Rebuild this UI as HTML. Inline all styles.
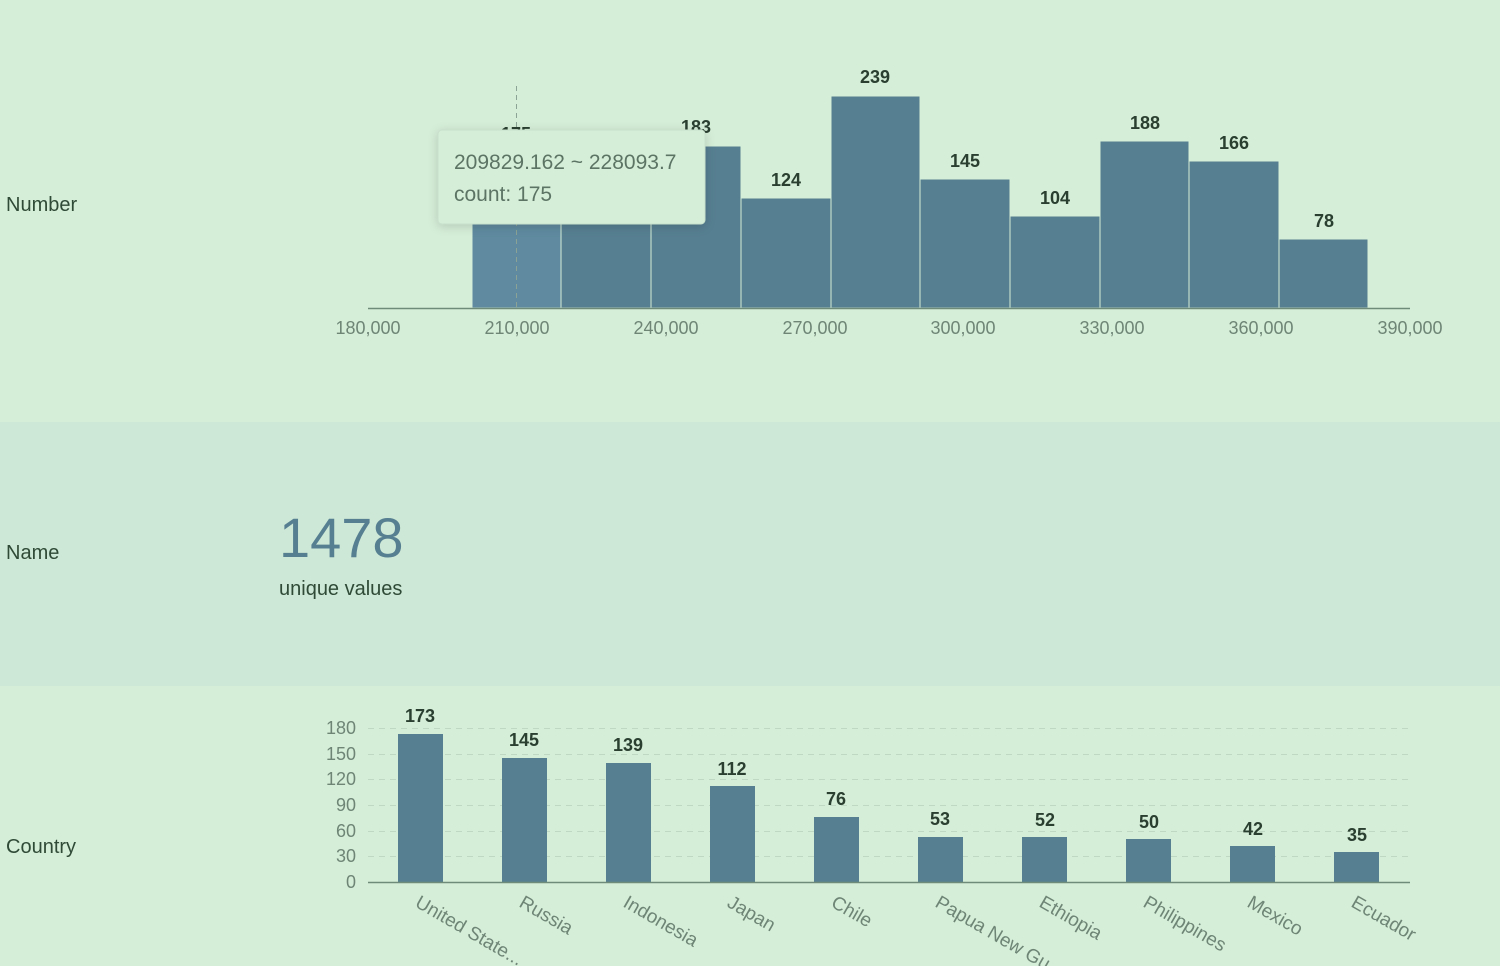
<!DOCTYPE html><html><head><meta charset="utf-8"><style>
body{margin:0;width:1500px;height:966px;background:#d5eed8;font-family:"Liberation Sans","DejaVu Sans",sans-serif;overflow:hidden;position:relative}
.lab{position:absolute;left:6px;font-size:20px;color:#2f4a36}
</style></head><body>
<div style="position:absolute;left:0;top:422px;width:1500px;height:264px;background:#cde8d6"></div>
<div class="lab" style="top:194px">Number</div>
<div class="lab" style="top:542px">Name</div>
<div class="lab" style="top:836px">Country</div>
<div style="position:absolute;left:279px;top:505px;font-size:56px;color:#567f91">1478</div>
<div style="position:absolute;left:279px;top:578px;font-size:20px;color:#2f4a36">unique values</div>
<svg width="1500" height="966" style="position:absolute;left:0;top:0" font-family="Liberation Sans, DejaVu Sans, sans-serif">
<g fill="#567f91" stroke="#d5eed8" stroke-width="1">
<rect x="472" y="153" width="89" height="155" fill="#5f8a9f"/>
<rect x="561" y="160" width="90" height="148"/>
<rect x="651" y="146" width="90" height="162"/>
<rect x="741" y="198" width="90" height="110"/>
<rect x="831" y="96" width="89" height="212"/>
<rect x="920" y="179" width="90" height="129"/>
<rect x="1010" y="216" width="90" height="92"/>
<rect x="1100" y="141" width="89" height="167"/>
<rect x="1189" y="161" width="90" height="147"/>
<rect x="1279" y="239" width="89" height="69"/>
</g>
<line x1="368" y1="308.5" x2="1410" y2="308.5" stroke="#6e8a78" stroke-width="1.5"/>
<g font-size="18" font-weight="bold" fill="#2a3f30" text-anchor="middle">
<text x="516" y="140">175</text><text x="696" y="133">183</text><text x="786" y="186">124</text><text x="875" y="83">239</text><text x="965" y="167">145</text><text x="1055" y="204">104</text><text x="1145" y="129">188</text><text x="1234" y="149">166</text><text x="1324" y="227">78</text>
</g>
<g font-size="18" fill="#6e8576" text-anchor="middle">
<text x="368" y="334">180,000</text><text x="517" y="334">210,000</text><text x="666" y="334">240,000</text><text x="815" y="334">270,000</text><text x="963" y="334">300,000</text><text x="1112" y="334">330,000</text><text x="1261" y="334">360,000</text><text x="1410" y="334">390,000</text>
</g>
<line x1="516.5" y1="86" x2="516.5" y2="308" stroke="#8aa394" stroke-dasharray="5,4"/>
<rect x="438" y="130" width="267" height="94" rx="4" fill="#d5eed8" stroke="#c8e0cc" style="filter:drop-shadow(0 2px 5px rgba(0,0,0,0.15))"/>
<text x="454" y="169" font-size="21" fill="#5c7464">209829.162 ~ 228093.7</text>
<text x="454" y="201" font-size="21" fill="#5c7464">count:  175</text>
<g stroke="#bfd8c4" stroke-dasharray="6,5">
<line x1="368" y1="728.5" x2="1410" y2="728.5"/><line x1="368" y1="754.5" x2="1410" y2="754.5"/><line x1="368" y1="779.5" x2="1410" y2="779.5"/><line x1="368" y1="805.5" x2="1410" y2="805.5"/><line x1="368" y1="831.5" x2="1410" y2="831.5"/><line x1="368" y1="856.5" x2="1410" y2="856.5"/>
</g>
<g font-size="18" fill="#6e8576" text-anchor="end">
<text x="356" y="734">180</text><text x="356" y="760">150</text><text x="356" y="785">120</text><text x="356" y="811">90</text><text x="356" y="837">60</text><text x="356" y="862">30</text><text x="356" y="888">0</text>
</g>
<g fill="#567f91">
<rect x="398" y="734" width="45" height="148"/><rect x="502" y="758" width="45" height="124"/><rect x="606" y="763" width="45" height="119"/><rect x="710" y="786" width="45" height="96"/><rect x="814" y="817" width="45" height="65"/><rect x="918" y="837" width="45" height="45"/><rect x="1022" y="837" width="45" height="45"/><rect x="1126" y="839" width="45" height="43"/><rect x="1230" y="846" width="45" height="36"/><rect x="1334" y="852" width="45" height="30"/>
</g>
<line x1="368" y1="882.5" x2="1410" y2="882.5" stroke="#6e8a78" stroke-width="1.5"/>
<g font-size="18" font-weight="bold" fill="#2a3f30" text-anchor="middle">
<text x="420" y="722">173</text><text x="524" y="746">145</text><text x="628" y="751">139</text><text x="732" y="775">112</text><text x="836" y="805">76</text><text x="940" y="825">53</text><text x="1045" y="826">52</text><text x="1149" y="828">50</text><text x="1253" y="835">42</text><text x="1357" y="841">35</text>
</g>
<g font-size="19" fill="#6e8576">
<text transform="translate(414,906) rotate(30)">United State...</text>
<text transform="translate(518,906) rotate(30)">Russia</text>
<text transform="translate(622,906) rotate(30)">Indonesia</text>
<text transform="translate(726,906) rotate(30)">Japan</text>
<text transform="translate(830,906) rotate(30)">Chile</text>
<text transform="translate(934,906) rotate(30)">Papua New Gu...</text>
<text transform="translate(1038,906) rotate(30)">Ethiopia</text>
<text transform="translate(1142,906) rotate(30)">Philippines</text>
<text transform="translate(1246,906) rotate(30)">Mexico</text>
<text transform="translate(1350,906) rotate(30)">Ecuador</text>
</g>
</svg>
</body></html>
